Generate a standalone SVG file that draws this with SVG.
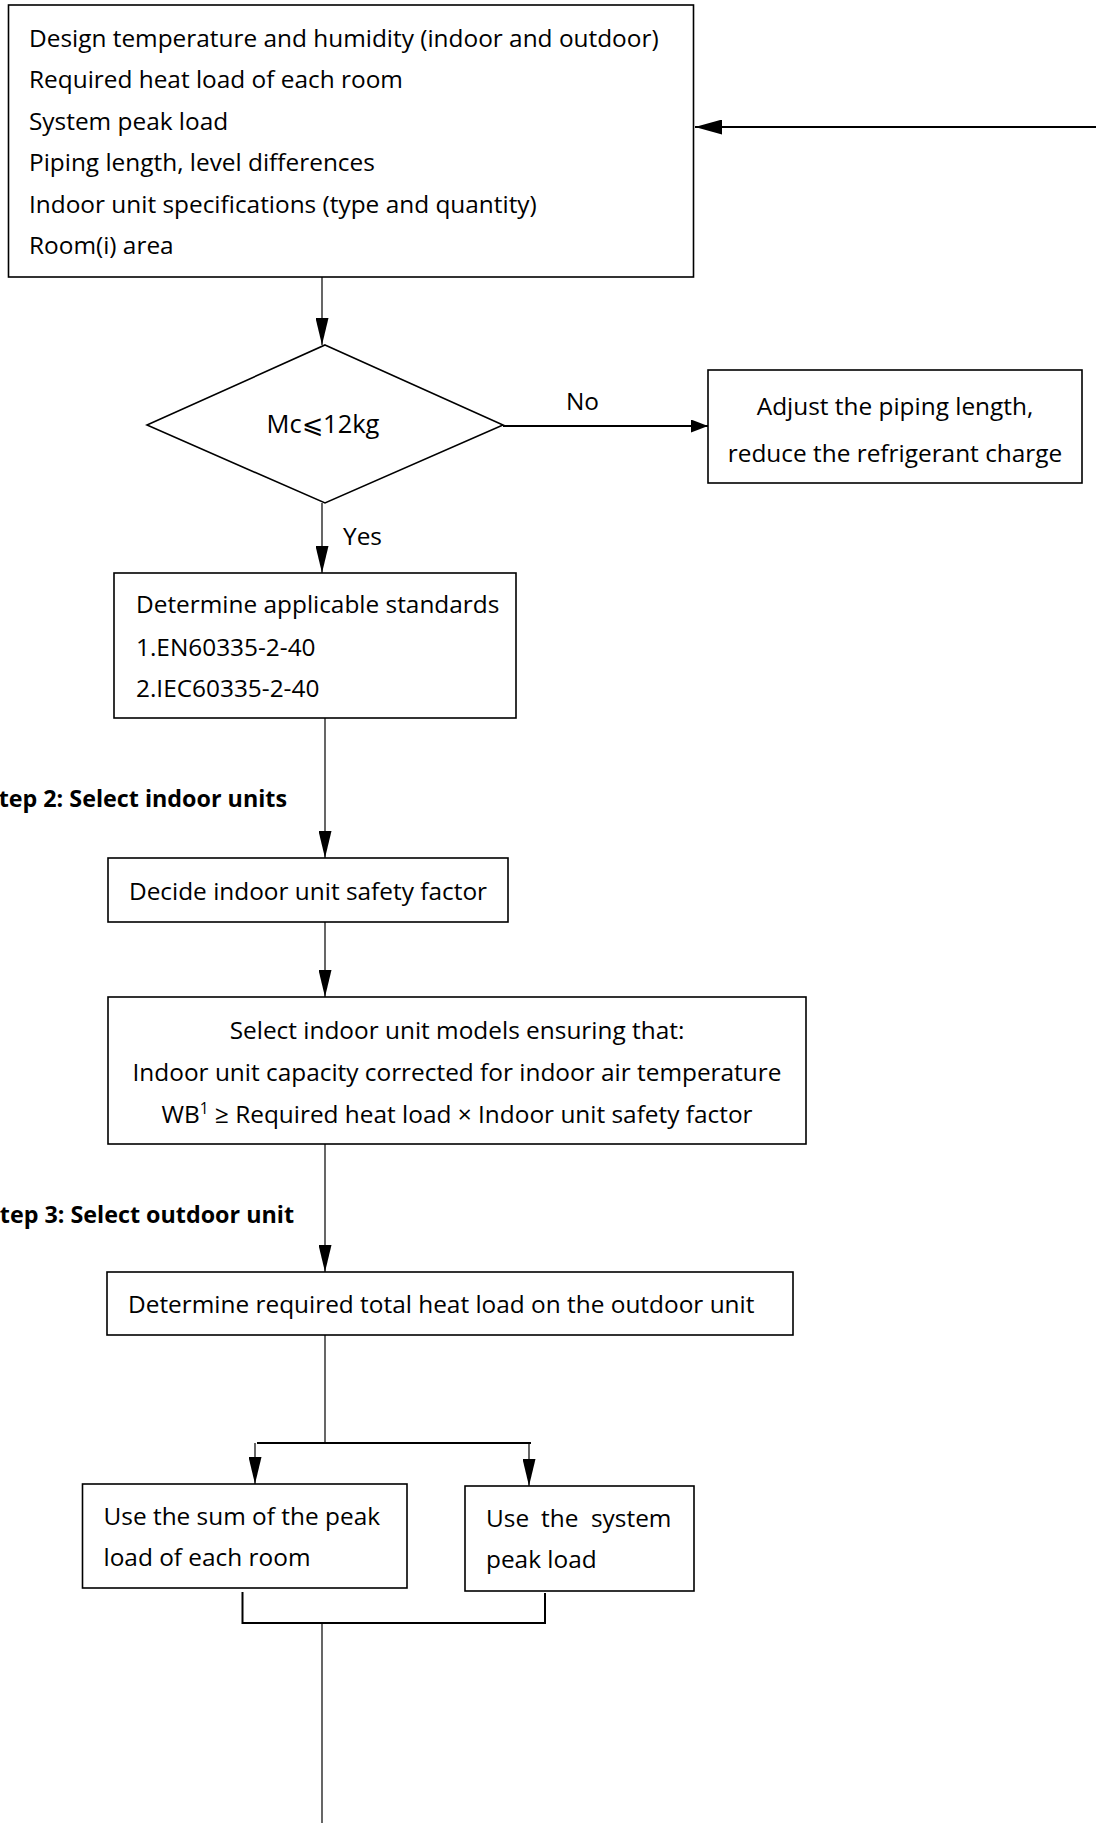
<svg xmlns="http://www.w3.org/2000/svg" width="1096" height="1823" viewBox="0 0 1096 1823">
<style>
text{font-family:"Open Sans","Noto Sans","Liberation Sans",sans-serif;font-size:24.4px;fill:#000}
.b{font-weight:bold;font-size:23.3px}
.box{fill:#fff;stroke:#000;stroke-width:1.6}
.c{fill:none;stroke:#000;stroke-width:1.2}
.ct{fill:none;stroke:#000;stroke-width:2}
.m{text-anchor:middle}
.e{text-anchor:end}
</style>
<defs>
<marker id="ah" markerUnits="userSpaceOnUse" markerWidth="27" markerHeight="13" viewBox="0 0 27 13" refX="27" refY="6.5" orient="auto"><path d="M0,0 L27,6.5 L0,13 z" fill="#000"/></marker>
<marker id="ah2" markerUnits="userSpaceOnUse" markerWidth="27" markerHeight="15" viewBox="0 0 27 15" refX="27" refY="7.5" orient="auto"><path d="M0,0 L27,7.5 L0,15 z" fill="#000"/></marker>
<marker id="ah3" markerUnits="userSpaceOnUse" markerWidth="17" markerHeight="13" viewBox="0 0 17 13" refX="17" refY="6.5" orient="auto"><path d="M0,0 L17,6.5 L0,13 z" fill="#000"/></marker>
</defs>
<rect width="1096" height="1823" fill="#fff"/>
<g id="connectors">
<path class="ct" d="M1096,127 L695,127" marker-end="url(#ah2)"/>
<path class="c" d="M322,277 L322,345" marker-end="url(#ah)"/>
<path class="ct" d="M503,426 L708,426" marker-end="url(#ah3)"/>
<path class="c" d="M322,503 L322,573" marker-end="url(#ah)"/>
<path class="c" d="M325,718 L325,858" marker-end="url(#ah)"/>
<path class="c" d="M325,922 L325,997" marker-end="url(#ah)"/>
<path class="c" d="M325,1144 L325,1272" marker-end="url(#ah)"/>
<path class="c" d="M325,1335 L325,1443"/>
<path class="ct" d="M257,1443 L531,1443"/>
<path class="c" d="M255,1443 L255,1484" marker-end="url(#ah)"/>
<path class="c" d="M529,1443 L529,1486" marker-end="url(#ah)"/>
<path class="ct" d="M242.5,1592 L242.5,1623 L545,1623 L545,1593"/>
<path class="c" d="M322,1623 L322,1823"/>
<text x="566" y="410">No</text>
<text x="343" y="545">Yes</text>
</g>
<g id="step2"><text class="b e" x="287" y="807">Step 2: Select indoor units</text></g>
<g id="step3"><text class="b e" x="294" y="1223">Step 3: Select outdoor unit</text></g>
<g id="inputs">
<rect class="box" x="8.5" y="5" width="685" height="272"/>
<text x="29" y="46.5">Design temperature and humidity (indoor and outdoor)</text>
<text x="29" y="88">Required heat load of each room</text>
<text x="29" y="129.5">System peak load</text>
<text x="29" y="171">Piping length, level differences</text>
<text x="29" y="212.5">Indoor unit specifications (type and quantity)</text>
<text x="29" y="254">Room(i) area</text>
</g>
<g id="decision">
<polygon class="box" points="325,345 503,425 325,503 147,425"/>
<text class="m" x="323" y="433" style="font-size:25.5px">Mc<tspan font-family="'DejaVu Sans',sans-serif">⩽</tspan>12kg</text>
</g>
<g id="adjust">
<rect class="box" x="708" y="370" width="374" height="113"/>
<text class="m" x="895" y="415">Adjust the piping length,</text>
<text class="m" x="895" y="462">reduce the refrigerant charge</text>
</g>
<g id="standards">
<rect class="box" x="114" y="573" width="402" height="145"/>
<text x="136" y="613">Determine applicable standards</text>
<text x="136" y="656">1.EN60335-2-40</text>
<text x="136" y="697">2.IEC60335-2-40</text>
</g>
<g id="safety">
<rect class="box" x="108" y="858" width="400" height="64"/>
<text class="m" x="308" y="900">Decide indoor unit safety factor</text>
</g>
<g id="select">
<rect class="box" x="108" y="997" width="698" height="147"/>
<text class="m" x="457" y="1039">Select indoor unit models ensuring that:</text>
<text class="m" x="457" y="1081">Indoor unit capacity corrected for indoor air temperature</text>
<text class="m" x="457" y="1123">WB<tspan dy="-9" font-size="15.5">1</tspan><tspan dy="9"> ≥ Required heat load × Indoor unit safety factor</tspan></text>
</g>
<g id="total">
<rect class="box" x="107" y="1272" width="686" height="63"/>
<text x="128" y="1313">Determine required total heat load on the outdoor unit</text>
</g>
<g id="sum">
<rect class="box" x="82.5" y="1484" width="324.5" height="104"/>
<text x="103.5" y="1525">Use the sum of the peak</text>
<text x="103.5" y="1566">load of each room</text>
</g>
<g id="system">
<rect class="box" x="465" y="1486" width="229" height="105"/>
<text y="1527"><tspan x="486">Use</tspan><tspan x="541">the</tspan><tspan x="591">system</tspan></text>
<text x="486" y="1568">peak load</text>
</g>
</svg>
